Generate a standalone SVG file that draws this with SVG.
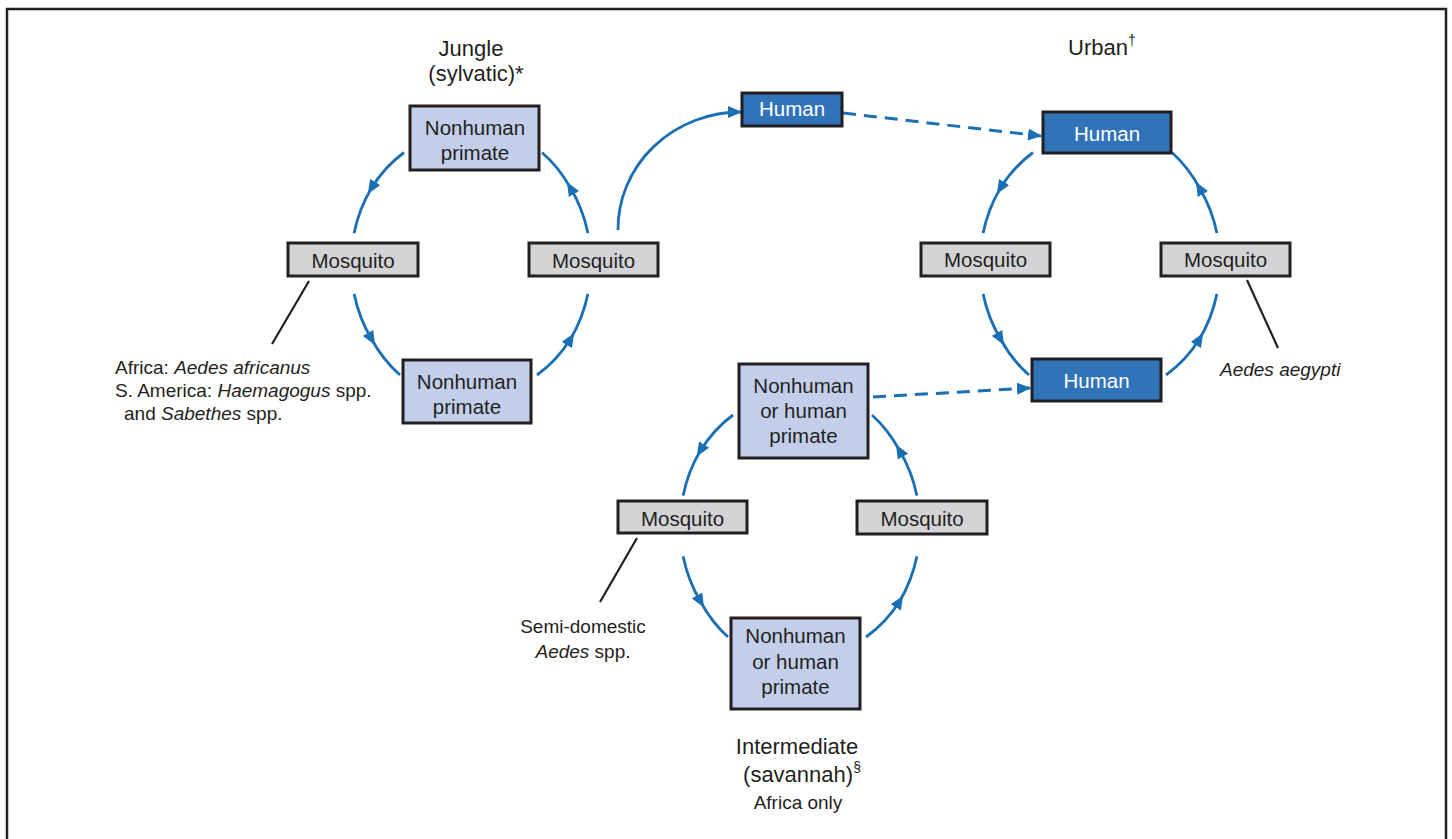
<svg xmlns="http://www.w3.org/2000/svg" width="1452" height="839" viewBox="0 0 1452 839">
<defs>
<marker id="mid" viewBox="0 0 14 12" refX="7" refY="6" markerWidth="14" markerHeight="12" markerUnits="userSpaceOnUse" orient="auto"><path d="M0,0 L14,6 L0,12 z" fill="#1A6FB5"/></marker>
<marker id="end" viewBox="0 0 14 12" refX="13" refY="6" markerWidth="14" markerHeight="12" markerUnits="userSpaceOnUse" orient="auto"><path d="M0,0 L14,6 L0,12 z" fill="#1A6FB5"/></marker>
</defs>
<style>
text{font-family:"Liberation Sans",Arial,sans-serif;fill:#231F20}
.box{stroke:#231F20;stroke-width:3}
.nhp{fill:#C3CEEA}
.mos{fill:#D4D4D6}
.hum{fill:#3173B8}
.bt{font-size:20.5px;text-anchor:middle}
.wt{fill:#FFFFFF}
.title{font-size:22px}
.ann{font-size:19px}
.cyc{fill:none;stroke:#1A6FB5;stroke-width:2.8;marker-mid:url(#mid)}
.conn{fill:none;stroke:#1A6FB5;stroke-width:2.8;marker-end:url(#end)}
.dash{fill:none;stroke:#1A6FB5;stroke-width:3;stroke-dasharray:13 8;marker-end:url(#end)}
.lead{stroke:#231F20;stroke-width:2.2}
</style>
<rect width="1452" height="839" fill="#FFFFFF"/>
<path d="M7,839 V9 H1446 V839" fill="none" stroke="#231F20" stroke-width="2.5"/>

<g id="connectors">
<!-- jungle cycle -->
<path class="cyc" d="M404,152.5 A120 135 0 0 0 371.5,188 A120 135 0 0 0 354.1,233.1"/>
<path class="cyc" d="M354.1,293.9 A120 135 0 0 0 371.5,339 A120 135 0 0 0 400,375"/>
<path class="cyc" d="M537,375 A120 135 0 0 0 570.5,339 A120 135 0 0 0 587.9,293.9"/>
<path class="cyc" d="M587.9,233.1 A120 135 0 0 0 570.5,188 A120 135 0 0 0 542,152.5"/>
<!-- urban cycle -->
<path class="cyc" d="M1033,152.5 A120 135 0 0 0 1000.5,188 A120 135 0 0 0 983.1,233.1"/>
<path class="cyc" d="M983.1,293.9 A120 135 0 0 0 1000.5,339 A120 135 0 0 0 1029,375"/>
<path class="cyc" d="M1166,375 A120 135 0 0 0 1199.5,339 A120 135 0 0 0 1216.9,293.9"/>
<path class="cyc" d="M1216.9,233.1 A120 135 0 0 0 1199.5,188 A120 135 0 0 0 1172,152.5"/>
<!-- intermediate cycle -->
<path class="cyc" d="M733,415 A120 135 0 0 0 700.5,450.5 A120 135 0 0 0 683.1,495.6"/>
<path class="cyc" d="M683.1,556.4 A120 135 0 0 0 700.5,601.5 A120 135 0 0 0 728,637"/>
<path class="cyc" d="M866,637 A120 135 0 0 0 899.5,601.5 A120 135 0 0 0 916.9,556.4"/>
<path class="cyc" d="M916.9,495.6 A120 135 0 0 0 899.5,450.5 A120 135 0 0 0 872,415"/>
<!-- links -->
<path class="conn" d="M618,230 A123 117 0 0 1 741,112"/>
<path class="dash" d="M843,113 L1041,136"/>
<path class="dash" d="M873,397 L1030,388"/>
<!-- leader lines -->
<line class="lead" x1="309" y1="281" x2="272" y2="344"/>
<line class="lead" x1="1247" y1="280" x2="1278" y2="348"/>
<line class="lead" x1="637" y1="538" x2="600" y2="602"/>
</g>

<g id="jungle-title">
<text class="title" x="471" y="56" text-anchor="middle">Jungle</text>
<text class="title" x="476" y="81" text-anchor="middle">(sylvatic)*</text>
</g>
<g id="urban-title">
<text class="title" x="1068" y="55">Urban<tspan font-size="14" dy="-10">†</tspan></text>
</g>
<g id="intermediate-title">
<text class="title" x="797" y="754" text-anchor="middle">Intermediate</text>
<text class="title" x="802" y="782" text-anchor="middle">(savannah)<tspan font-size="14" dy="-10">§</tspan></text>
<text class="ann" x="798" y="809" text-anchor="middle">Africa only</text>
</g>

<g id="jungle-nhp-top">
<rect class="box nhp" x="410" y="106" width="129" height="64"/>
<text class="bt" x="475" y="135">Nonhuman</text>
<text class="bt" x="475" y="160">primate</text>
</g>
<g id="jungle-mosquito-left">
<rect class="box mos" x="288" y="243" width="130" height="33"/>
<text class="bt" x="353" y="268">Mosquito</text>
</g>
<g id="jungle-mosquito-right">
<rect class="box mos" x="529" y="243" width="129" height="33"/>
<text class="bt" x="593.5" y="268">Mosquito</text>
</g>
<g id="jungle-nhp-bottom">
<rect class="box nhp" x="403" y="360" width="128" height="63"/>
<text class="bt" x="467" y="389">Nonhuman</text>
<text class="bt" x="467" y="414">primate</text>
</g>

<g id="human-middle">
<rect class="box hum" x="742" y="93" width="100" height="33"/>
<text class="bt wt" x="792" y="116">Human</text>
</g>

<g id="urban-human-top">
<rect class="box hum" x="1043" y="112" width="128" height="41"/>
<text class="bt wt" x="1107" y="141">Human</text>
</g>
<g id="urban-mosquito-left">
<rect class="box mos" x="921" y="243" width="129" height="33"/>
<text class="bt" x="985.5" y="267">Mosquito</text>
</g>
<g id="urban-mosquito-right">
<rect class="box mos" x="1161" y="243" width="129" height="33"/>
<text class="bt" x="1225.5" y="267">Mosquito</text>
</g>
<g id="urban-human-bottom">
<rect class="box hum" x="1032" y="359" width="129" height="42"/>
<text class="bt wt" x="1096.5" y="388">Human</text>
</g>

<g id="inter-primate-top">
<rect class="box nhp" x="739" y="364" width="129" height="94"/>
<text class="bt" x="803.5" y="393">Nonhuman</text>
<text class="bt" x="803.5" y="418">or human</text>
<text class="bt" x="803.5" y="443">primate</text>
</g>
<g id="inter-mosquito-left">
<rect class="box mos" x="618" y="501" width="129" height="32"/>
<text class="bt" x="682.5" y="526">Mosquito</text>
</g>
<g id="inter-mosquito-right">
<rect class="box mos" x="857" y="501" width="130" height="33"/>
<text class="bt" x="922" y="526">Mosquito</text>
</g>
<g id="inter-primate-bottom">
<rect class="box nhp" x="731" y="618" width="129" height="91"/>
<text class="bt" x="795.5" y="643">Nonhuman</text>
<text class="bt" x="795.5" y="669">or human</text>
<text class="bt" x="795.5" y="694">primate</text>
</g>

<g id="note-jungle">
<text class="ann" x="115" y="374">Africa: <tspan font-style="italic">Aedes africanus</tspan></text>
<text class="ann" x="115" y="397">S. America: <tspan font-style="italic">Haemagogus</tspan> spp.</text>
<text class="ann" x="124" y="420">and <tspan font-style="italic">Sabethes</tspan> spp.</text>
</g>
<g id="note-urban">
<text class="ann" x="1220" y="376" font-style="italic">Aedes aegypti</text>
</g>
<g id="note-intermediate">
<text class="ann" x="583" y="633" text-anchor="middle">Semi-domestic</text>
<text class="ann" x="583" y="658" text-anchor="middle"><tspan font-style="italic">Aedes</tspan> spp.</text>
</g>
</svg>
